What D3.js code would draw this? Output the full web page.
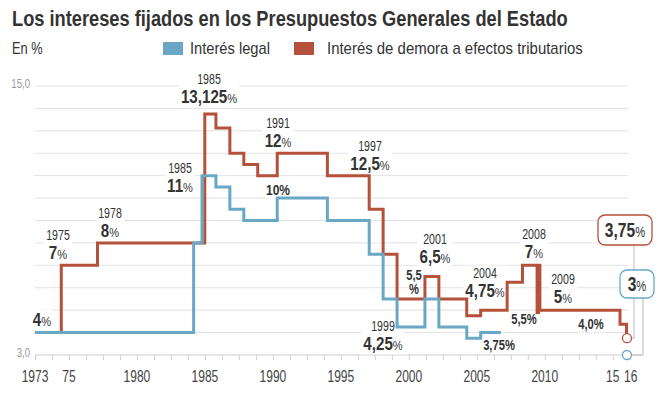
<!DOCTYPE html>
<html><head><meta charset="utf-8">
<script src="https://cdn.jsdelivr.net/npm/d3@7"></script>
<style>
html,body{margin:0;padding:0;background:#fff;}
svg{display:block;}
text{font-family:"Liberation Sans",Arial,sans-serif;}
</style></head>
<body>
<svg id="c" width="664" height="396"></svg>
<script>
// ---- data ----
const title = "Los intereses fijados en los Presupuestos Generales del Estado";
const unitLabel = "En %";
const seriesNames = ["Interés legal", "Interés de demora a efectos tributarios"];
// Interés legal: [year where step starts, value]
const legalYears  = [1973, 1984.4, 1985, 1986, 1987, 1988, 1990.4, 1994, 1997, 1998, 1999, 2001, 2002, 2004, 2005, 2006.45];
const legalValues = [4,    8,      11,   10.5, 9.5,  9,    10,     9,    7.5,  5.5,  4.25, 5.5,  4.25, 3.75, 4,    4];
// Interés de demora a efectos tributarios
const demoraYears  = [1974.9, 1974.9, 1977.5, 1985.2, 1986, 1987, 1988, 1989, 1990.4, 1994, 1997, 1998, 1999, 2001, 2002, 2004, 2005, 2006.9, 2008, 2009.05, 2009.15, 2009.25, 2015, 2015.47, 2015.5];
const demoraValues = [4,      7,      8,      13.75,  13.125, 12, 11.5, 11,   12,     11,   9.5,  7.5,  5.5,  6.5,  5.5,  4.75, 5,    6.25,   7,    4.9,     7,       5,       4.375, 3.75, 3.75];
const endYear = 2015.5;
const endLegal = 3;
const endDemora = 3.75;
const yTickLabels = ["15,0", "3,0"];
const yTickValues = [15, 3];
const xLabelValues = [1972.5, 1975, 1980, 1985, 1990, 1995, 2000, 2005, 2010, 2015, 2016.25];
const xLabelTexts  = ["1973", "75", "1980", "1985", "1990", "1995", "2000", "2005", "2010", "15", "16"];
// annotations text
const annYears  = ["1975", "1978", "1985", "1985", "1991", "1997", "2001", "2004", "1999", "2008", "2009", ""];
const annValues = ["7", "8", "11", "13,125", "12", "12,5", "6,5", "4,75", "4,25", "7", "5", "4"];
const smallLabels = ["10%", "5,5", "%", "3,75%", "5,5%", "4,0%"];

// ---- layout ----
const annPos = [[58,259],[110,237],[180,192],[209,103],[278,147],[370,170],[435,263],[485,297],[383,350],[534,258],[563,303],[42,326]];
const smallPos = [[278,195,13.5],[414,280,12.5],[414,294,12.5],[499,350,12.5],[524,324,12.5],[591,329,12.5]];
const BLUE = "#6aa7c5", RED = "#b5513a", TXT = "#333";
const SX = 0.8; // condensed look

const svg = d3.select("#c");
const x = d3.scaleLinear().domain([1985, 2015]).range([202, 620]);      // data scale
const xt = d3.scaleLinear().domain([1972.5, 2016.25]).range([35, 629.75]); // axis ticks
const y = d3.scaleLinear().domain([3, 15]).range([355, 86]);

// condensed text helper: parts = [[str, size, weight], ...]
function T(parent, px, py, parts, anchor, fill, sx, width) {
  const t = parent.append("text")
    .attr("text-anchor", anchor || "start").attr("fill", fill || TXT);
  parts.forEach(p => t.append("tspan").attr("font-size", p[1]).attr("font-weight", p[2] || "normal").text(p[0]));
  let s = sx || SX;
  if (width) s = width / t.node().getComputedTextLength();
  t.attr("transform", `translate(${px},${py}) scale(${s},1)`);
  return t;
}

// title & legend
T(svg, 12, 26, [[title, 22, "bold"]], "start", TXT, null, 556);
T(svg, 12, 54, [[unitLabel, 16]]);
const leg = [[163, BLUE, 190, 80], [294, RED, 327, 256]];
leg.forEach((l, i) => {
  svg.append("rect").attr("x", l[0]).attr("y", 42).attr("width", 20).attr("height", 13).attr("fill", l[1]);
  T(svg, l[2], 54, [[seriesNames[i], 16]], "start", TXT, null, l[3]);
});

// gridlines
const gridVals = d3.range(4, 16);
svg.append("g").selectAll("line").data(gridVals).join("line")
  .attr("x1", 35).attr("x2", 628).attr("y1", d => y(d)).attr("y2", d => y(d))
  .attr("stroke", "#e2e2e2").attr("stroke-width", 1);

// y labels
yTickValues.forEach((v, i) => T(svg, 30, y(v) + 1.5, [[yTickLabels[i], 12]], "end", "#999"));

// x axis
const tickVals = d3.range(0, 36).map(k => 1972.5 + 1.25 * k);
const ax = svg.append("g").attr("transform", "translate(0,355)")
  .call(d3.axisBottom(xt).tickValues(tickVals).tickSize(5).tickFormat(""));
ax.select(".domain").remove();
ax.selectAll(".tick line").attr("stroke", "#cfcfcf");
svg.append("line").attr("x1", 35).attr("x2", 643).attr("y1", 355).attr("y2", 355).attr("stroke", "#cfcfcf");
xLabelValues.forEach((v, i) => T(svg, xt(v) + (i === xLabelValues.length - 1 ? 1 : 0), 382, [[xLabelTexts[i], 16]], "middle", "#444", 0.75));

// annotations with white background
const annG = svg.append("g");
annValues.forEach((v, i) => {
  const [cx, b] = annPos[i];
  const g = annG.append("g");
  const bg = g.append("rect").attr("fill", "#fff");
  if (annYears[i]) T(g, cx, b - 19, [[annYears[i], 14]], "middle", TXT, 0.76);
  T(g, cx, b, [[v, 18.5, "bold"], ["%", 13.5]], "middle", TXT, 0.82);
  const bb = g.node().getBBox();
  bg.attr("x", bb.x - 2).attr("y", bb.y).attr("width", bb.width + 4).attr("height", bb.height);
});
smallLabels.forEach((s, i) => {
  const [cx, b, fs] = smallPos[i];
  const g = annG.append("g");
  const bg = g.append("rect").attr("fill", "#fff");
  T(g, cx, b, [[s, fs + 1.5, "bold"]], "middle", TXT, 0.8);
  const bb = g.node().getBBox();
  bg.attr("x", bb.x - 1).attr("y", bb.y).attr("width", bb.width + 2).attr("height", bb.height);
});

// lines
const line = d3.line().x(d => x(d[0])).y(d => y(d[1])).curve(d3.curveStepAfter);
const demora = demoraYears.map((d, i) => [d, demoraValues[i]]);
const legal = legalYears.map((d, i) => [d, legalValues[i]]);
svg.append("path").datum(demora).attr("d", line).attr("fill", "none")
  .attr("stroke", RED).attr("stroke-width", 3).attr("stroke-linejoin", "miter");
svg.append("path").datum(legal).attr("d", line).attr("fill", "none")
  .attr("stroke", BLUE).attr("stroke-width", 3).attr("stroke-linejoin", "miter");

// end markers and callouts
const ex = x(endYear);
svg.append("path").attr("d", `M${ex + 7},${y(endDemora)}V${245}`).attr("stroke", "#bbb").attr("fill", "none");
svg.append("path").attr("d", `M${ex + 4.5},${y(endDemora)}H${ex + 7}`).attr("stroke", "#bbb");
svg.append("path").attr("d", `M${ex + 4.5},${y(endLegal)}H${643}V${298}`).attr("stroke", "#bbb").attr("fill", "none");
svg.append("circle").attr("cx", ex).attr("cy", y(endDemora)).attr("r", 4.5)
  .attr("fill", "#fff").attr("stroke", RED).attr("stroke-width", 1.3);
svg.append("circle").attr("cx", ex).attr("cy", y(endLegal)).attr("r", 4.5)
  .attr("fill", "#fff").attr("stroke", BLUE).attr("stroke-width", 1.3);

function callout(x0, y0, w, h, col, val) {
  svg.append("rect").attr("x", x0).attr("y", y0).attr("width", w).attr("height", h).attr("rx", 7)
    .attr("fill", "#fff").attr("stroke", col).attr("stroke-width", 1.3);
  T(svg, x0 + w / 2, y0 + h / 2 + 7, [[val, 19.5, "bold"], ["%", 14]], "middle", TXT, 0.8);
}
callout(598, 215, 54, 30, RED, String(endDemora).replace(".", ","));
callout(620, 270, 34, 28, BLUE, String(endLegal));
</script>
</body></html>
